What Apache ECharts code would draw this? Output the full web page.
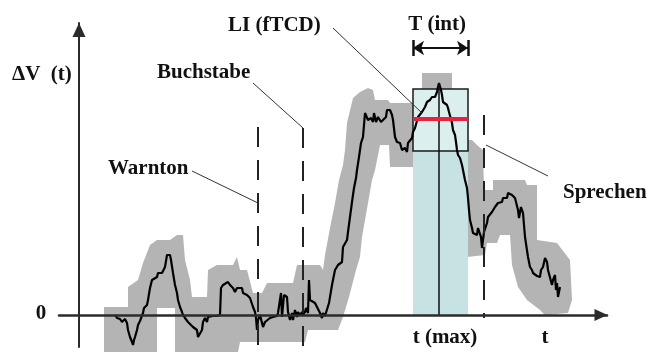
<!DOCTYPE html>
<html>
<head>
<meta charset="utf-8">
<script src="https://cdn.jsdelivr.net/npm/echarts@6/dist/echarts.min.js"></script>
<style>
  html, body { margin: 0; padding: 0; background: #fff; }
  #chart { width: 649px; height: 352px; }
</style>
</head>
<body>
<div id="chart"></div>
<script>
// Blood-flow-velocity trace ΔV(t): [time, ΔV]
const signal = [
  [36,0],[38,-3],[39,-5],[41,-4],[43,-7],[44,-5],[46,-4],[48,-8],[49,-15],[51,-22],
  [53,-27],[54,-30],[55,-25],[56,-22],[58,-15],[59,-10],[61,-6],[63,-5],[64,2],[65,7],
  [68,10],[69,15],[71,27],[73,35],[74,37],[78,38],[79,42],[83,42],[84,43],[86,48],
  [88,60],[89,62],[91,60],[92,55],[94,42],[96,30],[98,22],[99,15],[101,8],[103,3],
  [104,0],[106,-3],[108,-5],[109,-7],[111,-8],[114,-12],[118,-15],[119,-22],[121,-20],[123,-15],
  [124,-7],[126,-3],[128,-7],[129,-2],[131,0],[134,-1],[136,0],[138,-1],[141,0],[142,27],
  [144,30],[146,32],[149,33],[151,30],[153,32],[154,27],[156,23],[158,27],[159,25],[163,27],
  [164,22],[168,20],[171,17],[173,15],[174,8],[176,3],[177,-3],[178,-15],[179,-5],[181,0],
  [183,-8],[184,-12],[186,-7],[188,-5],[191,-3],[194,-2],[198,-1],[199,2],[201,0],[202,22],
  [203,-2],[205,20],[208,18],[209,3],[211,-5],[213,2],[214,-5],[216,5],[218,-2],[219,3],
  [221,0],[223,3],[224,0],[226,3],[227,7],[229,2],[230,35],[231,15],[233,13],[236,12],
  [238,8],[241,2],[243,-3],[244,2],[246,-1],
  [250,12],[253,30],[256,45],[259,50],[263,53],[264,68],[268,75],[269,83],[271,98],[273,113],
  [275,127],[277,137],[278,145],[280,158],[282,172],[284,178],[286,202],[288,203],[289,195],[292,197],
  [294,193],[295,202],[297,193],[299,198],[302,193],[304,195],[307,198],[308,205],[311,205],[313,200],
  [314,195],[316,178],[318,173],[321,172],[323,165],[324,163],[326,167],[328,163],[329,172],[331,173],
  [333,177],[334,183],[336,187],[339,198],[343,203],[346,208],[348,213],[351,215],[353,218],[354,220],
  [356,218],[358,223],[359,228],[360,232],[362,225],[363,220],[364,213],[366,212],[368,210],[369,207],
  [370,203],[372,202],[373,192],[374,185],[376,180],[377,173],[378,165],[379,160],[381,157],[383,150],
  [384,145],[386,135],[388,127],[389,117],[390,105],[391,95],[393,87],[394,82],[396,83],[398,80],
  [399,87],[401,88],[402,78],[403,67],[404,75],[405,83],[408,92],[409,98],[411,100],[413,103],
  [414,102],[416,108],[418,107],[419,112],[421,113],[423,113],[424,117],[426,118],[428,117],[429,122],
  [431,123],[433,120],[434,118],[436,117],[438,115],[439,105],[440,97],[442,108],[443,105],[444,102],
  [446,78],[448,77],[449,58],[451,48],[453,45],[454,42],[458,39],[461,38],[462,45],[464,48],
  [466,57],[468,53],[469,45],[471,45],[473,30],[474,35],[476,40],[477,25],[478,32],[479,18],[481,28]
];

// Variability band around the trace: upper edge left→right, lower edge right→left
const bandUpper = [
  [25,8],[49,8],[49,28],[59,35],[64,52],[71,70],[78,75],[91,75],[98,80],[104,80],
  [106,55],[111,35],[113,18],[128,18],[129,45],[138,50],[154,50],[158,58],[161,45],[168,45],
  [174,22],[183,22],[188,32],[214,32],[218,50],[241,50],[244,45],[246,60],[251,87],[256,112],
  [260,135],[264,150],[266,165],[268,192],[274,217],[281,223],[289,227],[294,225],[296,215],[309,215],
  [311,212],[334,212],[343,227],[343,242],[373,242],[373,227],[388,195],[388,175],[393,175],[399,169],
  [404,165],[405,125],[414,125],[414,135],[446,135],[448,130],[458,130],[458,75],[478,72],[491,55],
  [493,15]
];
const bandLower = [
  [489,2],[466,0],[461,5],[448,15],[439,28],[433,50],[431,80],[421,80],[418,72],[408,72],
  [406,60],[388,58],[361,75],[334,115],[334,148],[311,148],[310,170],[301,170],[296,145],[293,135],
  [289,112],[283,78],[281,58],[277,45],[270,18],[264,-2],[259,-15],[229,-15],[226,-27],[161,-27],
  [159,-37],[96,-37],[96,7],[78,7],[78,-37],[25,-37]
];

// Event markers: Warnton, Buchstabe, Sprechen
const eventTimes = [179, 224, 405];
const eventTops = [188, 187, 200];
const eventBottoms = [-32, -32, -3];

// Integration window T(int) around the maximum
const tMax = 360;
const tMaxTop = 232;
const tInt = [334, 389];
const windowBottom = 164;
const windowTop = 226;
const liLevel = 196;
const tIntLevel = 267;

// Leader lines from the labels to their markers
const leaders = [
  [[113, 144], [179, 112]],
  [[174, 232], [224, 187]],
  [[254, 287], [343, 202]],
  [[407, 170], [469, 139]]
];

const chart = echarts.init(document.getElementById('chart'), null, { renderer: 'canvas' });

const dark = '#1a1a1a';
const dashed = { type: [20, 13], width: 2, color: '#222' };
const thin = { type: 'solid', width: 1, color: '#333' };

const lines = [];
eventTimes.forEach((t, i) => {
  lines.push([{ coord: [t, eventTops[i]], lineStyle: dashed }, { coord: [t, eventBottoms[i]] }]);
});
leaders.forEach(l => {
  lines.push([{ coord: l[0], lineStyle: thin }, { coord: l[1] }]);
});
lines.push([{ coord: [tMax, 0], lineStyle: { type: 'solid', width: 1.5, color: '#111' } }, { coord: [tMax, tMaxTop] }]);
lines.push([{ coord: [tInt[0], liLevel], lineStyle: { type: 'solid', width: 4, color: '#ee2040' } }, { coord: [tInt[1], liLevel] }]);
// T(int) double arrow with end bars
lines.push([
  { coord: [tInt[0], tIntLevel], symbol: 'arrow', symbolSize: [11, 11], lineStyle: { type: 'solid', width: 2, color: '#111' } },
  { coord: [tInt[1], tIntLevel], symbol: 'arrow', symbolSize: [11, 11] }
]);
lines.push([{ coord: [tInt[0], tIntLevel - 8], lineStyle: { type: 'solid', width: 2.5, color: '#111' } }, { coord: [tInt[0], tIntLevel + 8] }]);
lines.push([{ coord: [tInt[1], tIntLevel - 8], lineStyle: { type: 'solid', width: 2.5, color: '#111' } }, { coord: [tInt[1], tIntLevel + 8] }]);

const font = 'bold 21px "Liberation Serif", "Times New Roman", serif';
function label(text, x, y, align) {
  return {
    type: 'text', x: x, y: y, z: 100,
    style: {
      text: text, font: font, fill: '#111',
      textAlign: align, textVerticalAlign: 'middle',
      align: align, verticalAlign: 'middle'
    }
  };
}

chart.setOption({
  animation: false,
  backgroundColor: '#fff',
  grid: { left: 59, right: 42, top: 23, bottom: 5 },
  xAxis: {
    type: 'value', min: -20, max: 528, z: 10,
    axisLine: {
      onZero: true, lineStyle: { color: '#2b2b2b', width: 2.5 },
      symbol: ['none', 'triangle'], symbolSize: [12, 13], symbolOffset: [0, -6]
    },
    axisTick: { show: false }, axisLabel: { show: false }, splitLine: { show: false }
  },
  yAxis: {
    type: 'value', min: -32, max: 292, z: 10,
    axisLine: {
      onZero: true, lineStyle: { color: '#2b2b2b', width: 2 },
      symbol: ['none', 'triangle'], symbolSize: [13, 14], symbolOffset: [0, -7]
    },
    axisTick: { show: false }, axisLabel: { show: false }, splitLine: { show: false }
  },
  series: [
    {
      name: 'band', type: 'custom', z: 1, silent: true,
      data: [[0, 0]],
      renderItem: function (params, api) {
        const pts = bandUpper.concat(bandLower).map(p => api.coord(p));
        return { type: 'polygon', shape: { points: pts }, style: { fill: '#b4b4b4' } };
      }
    },
    {
      name: 'window', type: 'custom', z: 2, silent: true,
      data: [[tInt[0], tInt[1], 0, windowBottom], [tInt[0], tInt[1], windowBottom, windowTop]],
      renderItem: function (params, api) {
        const p0 = api.coord([api.value(0), api.value(3)]);
        const p1 = api.coord([api.value(1), api.value(2)]);
        const isBox = params.dataIndex === 1;
        return {
          type: 'rect',
          shape: { x: p0[0], y: p0[1], width: p1[0] - p0[0], height: p1[1] - p0[1] },
          style: isBox ? { fill: '#dcefef', stroke: dark, lineWidth: 1.5 } : { fill: '#c6e2e3' }
        };
      }
    },
    {
      name: 'ΔV', type: 'line', z: 3, data: signal,
      showSymbol: false, symbol: 'none', silent: true,
      lineStyle: { color: '#000', width: 2.2 }
    },
    {
      name: 'marks', type: 'line', z: 4, data: [],
      markLine: {
        silent: true, animation: false, symbol: 'none', label: { show: false },
        data: lines
      }
    }
  ],
  graphic: [
    label('ΔV  (t)', 12, 75, 'left'),
    label('Buchstabe', 157, 73, 'left'),
    label('Warnton', 108, 169, 'left'),
    label('LI (fTCD)', 228, 26, 'left'),
    label('T (int)', 437, 25, 'center'),
    label('Sprechen', 563, 193, 'left'),
    label('0', 41, 314, 'center'),
    label('t (max)', 445, 338, 'center'),
    label('t', 545, 338, 'center')
  ]
});
</script>
</body>
</html>
